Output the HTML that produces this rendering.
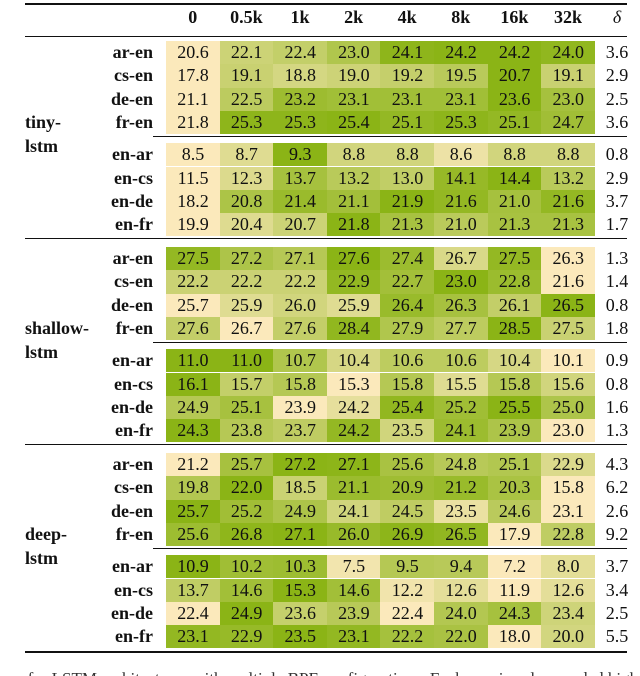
<!DOCTYPE html>
<html><head><meta charset="utf-8"><style>
body{margin:0;background:#fff;width:640px;height:676px;overflow:hidden;position:relative;font-family:"Liberation Serif",serif;color:#111}
.a{position:absolute}
.c{position:absolute;font-size:18px;text-align:center;line-height:23.3px;height:23.3px}
.rl{position:absolute;font-size:18px;font-weight:bold;text-align:right;width:90px;left:63px;line-height:23.3px}
.h{position:absolute;font-size:18px;font-weight:bold;text-align:center;top:7px}
.rule{position:absolute;left:25px;width:602px;background:#111}
#cap{position:absolute;left:0;top:664px;width:640px;height:12px;overflow:hidden}
</style></head><body>
<div id="t"></div>
<div id="cap"><div class="a" style="left:-22px;top:5px;font-size:17px;white-space:nowrap;color:#333">Scores for LSTM architectures with multiple BPE configurations. Each row is colour-coded highest</div></div>
<script>
const columns=["0","0.5k","1k","2k","4k","8k","16k","32k"];
const models=[["tiny-","lstm"],["shallow-","lstm"],["deep-","lstm"]];
const pairs=["ar-en","cs-en","de-en","fr-en","en-ar","en-cs","en-de","en-fr"];
const tinyVals=[
[20.6,22.1,22.4,23.0,24.1,24.2,24.2,24.0],
[17.8,19.1,18.8,19.0,19.2,19.5,20.7,19.1],
[21.1,22.5,23.2,23.1,23.1,23.1,23.6,23.0],
[21.8,25.3,25.3,25.4,25.1,25.3,25.1,24.7],
[8.5,8.7,9.3,8.8,8.8,8.6,8.8,8.8],
[11.5,12.3,13.7,13.2,13.0,14.1,14.4,13.2],
[18.2,20.8,21.4,21.1,21.9,21.6,21.0,21.6],
[19.9,20.4,20.7,21.8,21.3,21.0,21.3,21.3]];
const shallowVals=[
[27.5,27.2,27.1,27.6,27.4,26.7,27.5,26.3],
[22.2,22.2,22.2,22.9,22.7,23.0,22.8,21.6],
[25.7,25.9,26.0,25.9,26.4,26.3,26.1,26.5],
[27.6,26.7,27.6,28.4,27.9,27.7,28.5,27.5],
[11.0,11.0,10.7,10.4,10.6,10.6,10.4,10.1],
[16.1,15.7,15.8,15.3,15.8,15.5,15.8,15.6],
[24.9,25.1,23.9,24.2,25.4,25.2,25.5,25.0],
[24.3,23.8,23.7,24.2,23.5,24.1,23.9,23.0]];
const deepVals=[
[21.2,25.7,27.2,27.1,25.6,24.8,25.1,22.9],
[19.8,22.0,18.5,21.1,20.9,21.2,20.3,15.8],
[25.7,25.2,24.9,24.1,24.5,23.5,24.6,23.1],
[25.6,26.8,27.1,26.0,26.9,26.5,17.9,22.8],
[10.9,10.2,10.3,7.5,9.5,9.4,7.2,8.0],
[13.7,14.6,15.3,14.6,12.2,12.6,11.9,12.6],
[22.4,24.9,23.6,23.9,22.4,24.0,24.3,23.4],
[23.1,22.9,23.5,23.1,22.2,22.0,18.0,20.0]];
const deltas=[[3.6,2.9,2.5,3.6,0.8,2.9,3.7,1.7],[1.3,1.4,0.8,1.8,0.9,0.8,1.6,1.3],[4.3,6.2,2.6,9.2,3.7,3.4,2.5,5.5]];
const allVals=[tinyVals,shallowVals,deepVals];
const T=document.getElementById('t');
const X0=166,CW=53.6,RH=23.3;
const blockTop=[41,247,453];
function mk(cls,style,txt){const d=document.createElement('div');d.className=cls;d.style.cssText=style;if(txt!==undefined)d.textContent=txt;T.appendChild(d);return d;}
function col(t){const a=[251,233,187],b=[139,180,22];return 'rgb('+a.map((v,i)=>Math.round(v+(b[i]-v)*t)).join(',')+')';}
let r;
r=mk('rule','top:3px;height:1.6px');


r=mk('rule','top:36px;height:1px');


r=mk('rule','top:651px;height:1.6px');


columns.forEach((c,i)=>{
  const h=mk('h','left:'+(X0+i*CW)+'px;width:'+CW+'px',c);
  
  
});
const dh=mk('h','left:600px;width:34px;font-weight:normal;font-style:italic','δ');


allVals.forEach((vals,b)=>{
  const top=blockTop[b];
  const ml=mk('a','left:25px;top:'+(top+RH*4-24)+'px;font-size:18px;font-weight:bold;line-height:24px');
  ml.innerHTML=models[b][0]+'<br>'+models[b][1];
  
  
  const sep=mk('rule','left:153px;width:474px;top:'+(top+RH*4+2)+'px;height:1px');
  
  
  if(b<2){const th=mk('rule','top:'+(top+RH*8+10.5)+'px;height:1px');
    
    }
  vals.forEach((row,j)=>{
    const y=top+j*RH+(j>=4?9:0);
    const rl=mk('rl','top:'+y+'px',pairs[j]);
    
    
    const mn=Math.min(...row),mx=Math.max(...row);
    row.forEach((v,i)=>{
      const t=mx>mn?(v-mn)/(mx-mn):0;
      const c=mk('c','left:'+(X0+i*CW)+'px;top:'+y+'px;width:'+(CW+0.5)+'px;background:'+col(t),v.toFixed(1));
      
      
    });
    const d=mk('c','left:600px;top:'+y+'px;width:34px',deltas[b][j].toFixed(1));
    
    
  });
});
</script>
</body></html>
